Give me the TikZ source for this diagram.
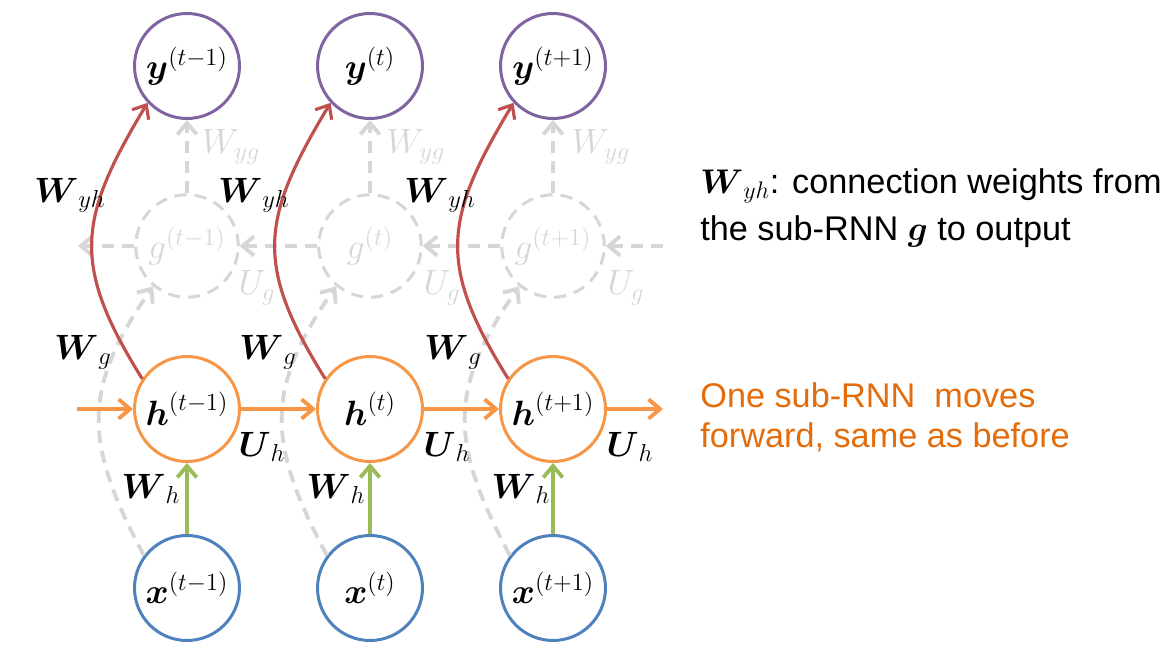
\RequirePackage{fix-cm}
\documentclass[tikz,border=0pt]{standalone}
\usepackage{amsmath,amssymb}
\usepackage{fontspec}
\setsansfont{Liberation Sans}
\usepackage{tikz}
\usetikzlibrary{arrows.meta}
\definecolor{ypurple}{HTML}{8064A2}
\definecolor{horange}{HTML}{F79646}
\definecolor{xblue}{HTML}{4F81BD}
\definecolor{wred}{HTML}{C0504D}
\definecolor{wgreen}{HTML}{9BBB59}
\definecolor{gfaint}{HTML}{D6D6D6}
\definecolor{torange}{HTML}{E46C0A}

\begin{document}
\begin{tikzpicture}[x=0.02cm, y=0.02cm, every node/.style={font=\fontsize{20}{24}\selectfont}, >={Straight Barb[length=6.5pt, width=11pt]},
	unit/.style={draw, circle, line width=1.7pt, minimum size=2.1cm, inner sep=0pt},
	ghost/.style={draw=gfaint, circle, line width=1.7pt, dash pattern=on 7pt off 4.5pt, minimum size=2.05cm, inner sep=0pt, text=gfaint},
	faintarr/.style={->, gfaint, line width=2.2pt, dash pattern=on 7pt off 4.5pt},
	side/.style={anchor=base west, inner sep=0pt, font=\fontsize{19.5}{23}\selectfont\sffamily}]
	\useasboundingbox (0,0) rectangle (1176,664);
	\node[unit, draw=ypurple] (y1) at (187,598) {$\boldsymbol{y}^{(t-1)}$}; \node[unit, draw=ypurple] (y2) at (370,598) {$\boldsymbol{y}^{(t)}$}; \node[unit, draw=ypurple] (y3) at (553,598) {$\boldsymbol{y}^{(t+1)}$};
	\node[ghost] (g1) at (187,418) {$g^{(t-1)}$}; \node[ghost] (g2) at (370,418) {$g^{(t)}$}; \node[ghost] (g3) at (553,418) {$g^{(t+1)}$};
	\node[unit, draw=horange] (h1) at (187,255) {$\boldsymbol{h}^{(t-1)}$}; \node[unit, draw=horange] (h2) at (370,255) {$\boldsymbol{h}^{(t)}$}; \node[unit, draw=horange] (h3) at (553,255) {$\boldsymbol{h}^{(t+1)}$};
	\node[unit, draw=xblue] (x1) at (187,76) {$\boldsymbol{x}^{(t-1)}$}; \node[unit, draw=xblue] (x2) at (370,76) {$\boldsymbol{x}^{(t)}$}; \node[unit, draw=xblue] (x3) at (553,76) {$\boldsymbol{x}^{(t+1)}$};
	\coordinate (hin) at (77,255); \coordinate (hout) at (663,255); \coordinate (gin) at (663,418); \coordinate (gout) at (78,418);
	\draw[faintarr] (g1) -- (y1); \draw[faintarr] (g2) -- (y2); \draw[faintarr] (g3) -- (y3);
	\draw[faintarr] (gin) -- (g3); \draw[faintarr] (g3) -- (g2); \draw[faintarr] (g2) -- (g1); \draw[faintarr] (g1) -- (gout);
	\draw[faintarr] (x1.143) to[out=118, in=235, looseness=1.2] (g1.230); \draw[faintarr] (x2.143) to[out=118, in=235, looseness=1.2] (g2.230); \draw[faintarr] (x3.143) to[out=118, in=235, looseness=1.2] (g3.230);
	\draw[->, wred, line width=1.8pt] (h1.146) to[out=122, in=239, looseness=1.25] (y1.223); \draw[->, wred, line width=1.8pt] (h2.146) to[out=122, in=239, looseness=1.25] (y2.223); \draw[->, wred, line width=1.8pt] (h3.146) to[out=122, in=239, looseness=1.25] (y3.223);
	\draw[->, horange, line width=2.2pt] (hin) -- (h1); \draw[->, horange, line width=2.2pt] (h1) -- (h2); \draw[->, horange, line width=2.2pt] (h2) -- (h3); \draw[->, horange, line width=2.2pt] (h3) -- (hout);
	\draw[->, wgreen, line width=2.2pt] (x1) -- (h1); \draw[->, wgreen, line width=2.2pt] (x2) -- (h2); \draw[->, wgreen, line width=2.2pt] (x3) -- (h3);
	\node (wyh1) at (70,469) {$\boldsymbol{W}_{yh}$}; \node (wyh2) at (254,469) {$\boldsymbol{W}_{yh}$}; \node (wyh3) at (440,469) {$\boldsymbol{W}_{yh}$};
	\node[text=gfaint] (wyg1) at (231,517) {$W_{yg}$}; \node[text=gfaint] (wyg2) at (416,517) {$W_{yg}$}; \node[text=gfaint] (wyg3) at (601,517) {$W_{yg}$};
	\node[text=gfaint] (ug1) at (257,376) {$U_{g}$}; \node[text=gfaint] (ug2) at (442,376) {$U_{g}$}; \node[text=gfaint] (ug3) at (626,376) {$U_{g}$};
	\node (wg1) at (83,312) {$\boldsymbol{W}_{g}$}; \node (wg2) at (268,312) {$\boldsymbol{W}_{g}$}; \node (wg3) at (453,312) {$\boldsymbol{W}_{g}$};
	\node (uh1) at (262,217) {$\boldsymbol{U}_{h}$}; \node (uh2) at (447,217) {$\boldsymbol{U}_{h}$}; \node (uh3) at (630,217) {$\boldsymbol{U}_{h}$};
	\node (wh1) at (151,175) {$\boldsymbol{W}_{h}$}; \node (wh2) at (336,175) {$\boldsymbol{W}_{h}$}; \node (wh3) at (521,175) {$\boldsymbol{W}_{h}$};
	\node[side] (note1) at (700,471) {$\boldsymbol{W}_{yh}$: connection weights from}; \node[side] (note2) at (700,424) {the sub-RNN $\boldsymbol{g}$ to output};
	\node[side, text=torange] (note3) at (700,257) {One sub-RNN~ moves}; \node[side, text=torange] (note4) at (700,217) {forward, same as before};
\end{tikzpicture}
\end{document}
